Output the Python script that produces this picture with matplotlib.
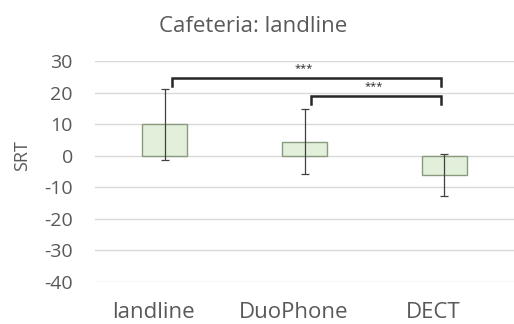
import matplotlib
matplotlib.use("Agg")
import matplotlib.pyplot as plt
from matplotlib.transforms import ScaledTranslation

# data
categories = ["landline", "DuoPhone", "DECT"]
srt_mean = [10.0, 4.4, -6.0]
srt_err = [11.2, 10.3, 6.7]
yticks = [30, 20, 10, 0, -10, -20, -30, -40]

# significance brackets: (left index, right index, height, label)
brackets = [(0, 2, 24.7, "***"), (1, 2, 19.0, "***")]

plt.rcParams["font.family"] = ["Open Sans", "DejaVu Sans"]
text_color = "#595959"

fig = plt.figure(figsize=(5.14, 3.24), dpi=100)
ax = fig.add_axes([95 / 514, 1 - 282 / 324, 419 / 514, (282 - 61) / 324])

x = list(range(len(categories)))
ax.bar(x, srt_mean, width=0.32, color="#e2efda", edgecolor="#8a9a7e",
       linewidth=1.0, zorder=2)
ax.errorbar(x, srt_mean, yerr=srt_err, fmt="none", ecolor="#404040",
            elinewidth=0.9, capsize=3, capthick=0.9, zorder=3)

# brackets
for i, j, h, lab in brackets:
    x0 = i + 0.05
    x1 = j - 0.02
    ax.plot([x0, x0, x1, x1], [h - 2.5, h, h, h - 2.5], color="#262626",
            linewidth=1.8, zorder=4, solid_joinstyle="miter")
    ax.text((x0 + x1) / 2 - 0.02, h + 1.2, lab, ha="center", va="bottom",
            fontsize=8, color="#262626")

ax.set_xlim(-0.5, 2.5)
ax.set_ylim(-40, 30)
ax.set_yticks(yticks)
ax.set_yticklabels([str(t) for t in yticks])
ax.set_xticks(x)
ax.set_xticklabels(categories)
ax.tick_params(axis="both", length=0, colors=text_color)
ax.tick_params(axis="x", pad=14.5, labelsize=16)
ax.tick_params(axis="y", pad=16, labelsize=14)
# category labels sit slightly left of the bars in the original
shift = ScaledTranslation(-11 / 100, 0, fig.dpi_scale_trans)
for lab in ax.get_xticklabels():
    lab.set_transform(lab.get_transform() + shift)
ax.grid(axis="y", color="#d9d9d9", linewidth=1.0, zorder=0)
ax.set_axisbelow(True)
for s in ax.spines.values():
    s.set_visible(False)

ax.set_ylabel("SRT", color=text_color, fontsize=13)
ax.yaxis.set_label_coords(-0.152, 0.57)
fig.text(253 / 514, 1 - 27 / 324, "Cafeteria: landline", ha="center",
         va="center", fontsize=16, color=text_color)

fig.savefig("out.png", dpi=100)
